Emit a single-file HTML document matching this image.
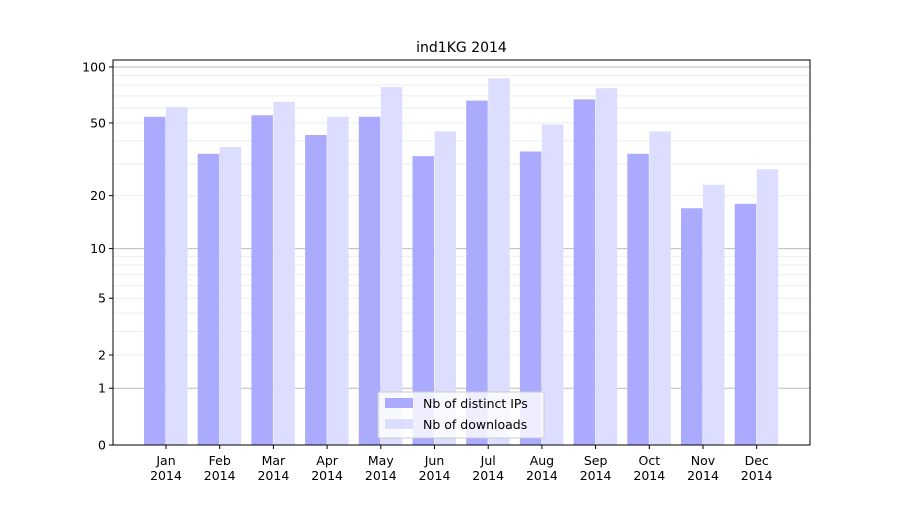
<!DOCTYPE html>
<html><head><meta charset="utf-8"><style>
body{margin:0;background:#fff;font-family:"Liberation Sans","DejaVu Sans",sans-serif;}
svg text{font-family:"DejaVu Sans","Liberation Sans",sans-serif;}
</style></head><body>
<svg id="chart" width="900" height="500" xmlns="http://www.w3.org/2000/svg">
<rect width="900" height="500" fill="#fff"/>
<text x="461.5" y="52" font-size="14" text-anchor="middle" fill="#000">ind1KG 2014</text>
<g id="grid"></g><g id="bars"></g><g id="axes"></g>
<g>
<rect x="378" y="392" width="166" height="46" fill="#fff" fill-opacity="0.8" stroke="#ccc" rx="2"/>
<rect x="385" y="398" width="28" height="10" fill="#aaaaff"/>
<text x="423" y="408" font-size="12.5">Nb of distinct IPs</text>
<rect x="385" y="419" width="28" height="10" fill="#ddddff"/>
<text x="423" y="429" font-size="12.5">Nb of downloads</text>
</g>
</svg>
<script>
const months=["Jan","Feb","Mar","Apr","May","Jun","Jul","Aug","Sep","Oct","Nov","Dec"];
const ips=[54,34,55,43,54,33,66,35,67,34,17,18];
const downloads=[61,37,65,54,78,45,87,49,77,45,23,28];
const yTicks=[0,1,2,5,10,20,50,100];
const NS="http://www.w3.org/2000/svg";
const L=113,R=810,T=60,B=445;
function y(v){return B-Math.log10(v+1)*188.6;}
function xc(i){return 166+i*53.7;}
function mk(tag,attrs,parent){const e=document.createElementNS(NS,tag);for(const k in attrs)e.setAttribute(k,attrs[k]);parent.appendChild(e);return e;}
const grid=document.getElementById('grid'),bars=document.getElementById('bars'),axes=document.getElementById('axes');
const minors=[];for(let d=1;d<=100;d*=10)for(let m=1;m<10;m++){const v=m*d;if(v<=109)minors.push(v);}
minors.forEach(v=>{const major=(v===1||v===10||v===100);
 const ln=mk('line',{x1:L,x2:R,y1:y(v),y2:y(v),stroke:major?'#bbb':'#eee','stroke-width':1},grid);
 
 
});
months.forEach((m,i)=>{
 const b1=mk('rect',{x:xc(i)-22,y:y(ips[i]),width:21.5,height:B-y(ips[i]),fill:'#aaaaff'},bars);
 
 
 const b2=mk('rect',{x:xc(i),y:y(downloads[i]),width:21.5,height:B-y(downloads[i]),fill:'#ddddff'},bars);
 
 
 mk('line',{x1:xc(i),x2:xc(i),y1:B,y2:B+4,stroke:'#000'},axes);
 const t=mk('text',{x:xc(i),y:B+20,'font-size':12.5,'text-anchor':'middle'},axes);
 
 
 const s1=mk('tspan',{x:xc(i)},t);s1.textContent=m;
 const s2=mk('tspan',{x:xc(i),dy:15},t);s2.textContent='2014';
});
yTicks.forEach(v=>{
 mk('line',{x1:L-4,x2:L,y1:y(v),y2:y(v),stroke:'#000'},axes);
 const t=mk('text',{x:L-7,y:y(v)+4.5,'font-size':12.5,'text-anchor':'end'},axes);
 
 
 t.textContent=v;
});
const f=mk('rect',{x:L,y:T,width:R-L,height:B-T,fill:'none',stroke:'#000','stroke-width':1},axes);


</script>
</body></html>
